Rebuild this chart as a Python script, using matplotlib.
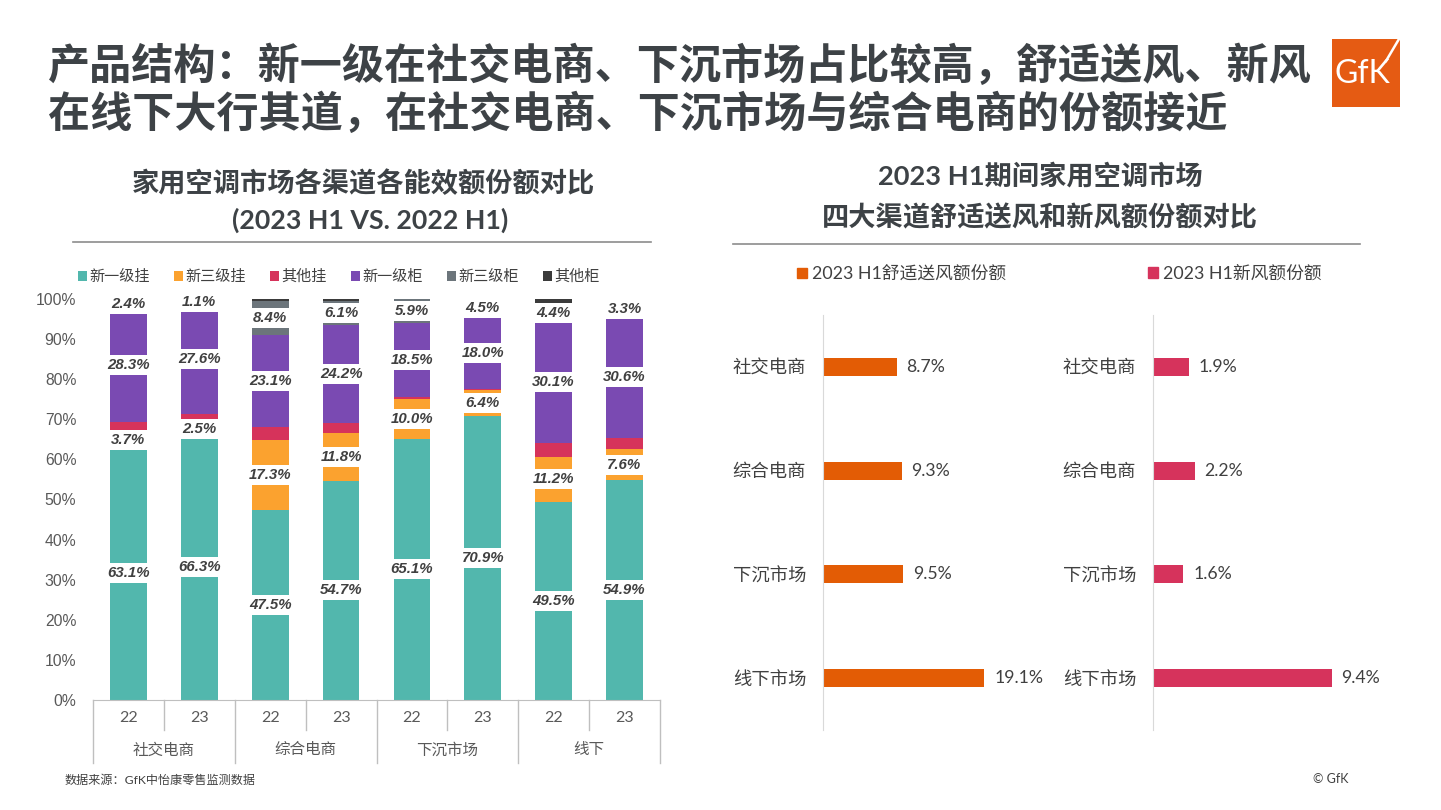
import numpy as np
import matplotlib
matplotlib.use("Agg")
import matplotlib.pyplot as plt
import matplotlib.transforms as mtransforms
from matplotlib.patches import Rectangle

plt.rcParams['font.family'] = ['Lato', 'Noto Sans CJK SC', 'DejaVu Sans']

# ---- data ----
title1 = "产品结构：新一级在社交电商、下沉市场占比较高，舒适送风、新风"
title2 = "在线下大行其道，在社交电商、下沉市场与综合电商的份额接近"

groups = ['社交电商', '综合电商', '下沉市场', '线下']
years = ['22', '23']
series_names = ['新一级挂', '新三级挂', '其他挂', '新一级柜', '新三级柜', '其他柜']
xinyi_gua = [63.1, 66.3, 47.5, 54.7, 65.1, 70.9, 49.5, 54.9]
xinsan_gua = [3.7, 2.5, 17.3, 11.8, 10.0, 6.4, 11.2, 7.6]
qita_gua = [2.5, 2.4, 3.2, 2.7, 0.5, 0.2, 3.5, 2.8]
xinyi_gui = [28.3, 27.6, 23.1, 24.2, 18.5, 18.0, 30.1, 30.6]
xinsan_gui = [2.4, 1.1, 8.4, 6.1, 5.9, 4.5, 4.4, 3.3]
qita_gui = [0.0, 0.1, 0.5, 0.5, 0.0, 0.0, 1.3, 0.8]
labelled = ['新一级挂', '新三级挂', '新一级柜', '新三级柜']

channels = ['社交电商', '综合电商', '下沉市场', '线下市场']
comfort_share = [8.7, 9.3, 9.5, 19.1]
fresh_share = [1.9, 2.2, 1.6, 9.4]

# ---- style ----
TXT = '#404040'
TITLE_C = '#3d4246'
GRID = '#bfbfbf'
stack_colors = ['#52b7ad', '#fba22f', '#d6335b', '#7a4ab2', '#6c757b', '#3b3b3b']
ORANGE = '#e35c05'
CRIMSON = '#d6335c'

W, H = 1441, 810
fig = plt.figure(figsize=(W / 100, H / 100), dpi=100)


def rect(x0, y0, x1, y1):
    return [x0 / W, 1 - y1 / H, (x1 - x0) / W, (y1 - y0) / H]


# titles
fig.text(48 / W, 1 - 65 / H, title1, fontsize=30.3, weight='bold', color=TITLE_C, va='center')
fig.text(48 / W, 1 - 113 / H, title2, fontsize=30.3, weight='bold', color=TITLE_C, va='center')

# logo
fig.add_artist(Rectangle((1332 / W, 1 - 107 / H), 68 / W, 68 / H, transform=fig.transFigure,
                         color='#e55b13', lw=0))
fig.text(1362 / W, 1 - 74 / H, 'GfK', fontsize=23, color='white', ha='center', va='center')
fig.add_artist(plt.Line2D([1399 / W, 1386 / W], [1 - 39 / H, 1 - 61 / H], color='white', lw=1.8,
                          transform=fig.transFigure))

# subtitles
fig.text(363 / W, 1 - 183 / H, '家用空调市场各渠道各能效额份额对比', fontsize=19.6, weight='bold',
         color=TITLE_C, ha='center', va='center')
fig.text(370 / W, 1 - 220 / H, '(2023 H1 VS. 2022 H1)', fontsize=19.3, weight='bold',
         color=TITLE_C, ha='center', va='center')
fig.add_artist(plt.Line2D([73 / W, 651 / W], [1 - 242 / H] * 2, color='#8c8c8c', lw=1.2,
                          transform=fig.transFigure))
fig.text(1040 / W, 1 - 176 / H, '2023 H1期间家用空调市场', fontsize=19.6, weight='bold',
         color=TITLE_C, ha='center', va='center')
fig.text(1040 / W, 1 - 217 / H, '四大渠道舒适送风和新风额份额对比', fontsize=19.6, weight='bold',
         color=TITLE_C, ha='center', va='center')
fig.add_artist(plt.Line2D([733 / W, 1360 / W], [1 - 244 / H] * 2, color='#8c8c8c', lw=1.2,
                          transform=fig.transFigure))

# ---- left stacked chart ----
axL = fig.add_axes(rect(93, 299, 660, 700))
x = np.arange(8)
bottom = np.zeros(8)
handles = []
for name, vals, col in zip(series_names,
                           [xinyi_gua, xinsan_gua, qita_gua, xinyi_gui, xinsan_gui, qita_gui],
                           stack_colors):
    vals = np.array(vals)
    b = axL.bar(x, vals, 0.52, bottom=bottom, color=col, label=name, lw=0, zorder=2)
    handles.append(b)
    if name in labelled:
        for xi, v, bt in zip(x, vals, bottom):
            axL.text(xi, bt + v / 2, f'{v:.1f}%', ha='center', va='center', fontsize=10.8,
                     weight='bold', style='italic', family='Liberation Sans', color=TXT, zorder=5,
                     bbox=dict(boxstyle='square,pad=0.2', fc='white', ec='none'))
    bottom += vals

axL.set_xlim(-0.5, 7.5)
axL.set_ylim(0, 100)
axL.set_yticks(np.arange(0, 101, 10))
axL.set_yticklabels([f'{v}%' for v in range(0, 101, 10)], family='Liberation Sans',
                    fontsize=11.3, color='#595959')
axL.tick_params(axis='y', length=0, pad=12)
axL.set_xticks([])
for s in ['top', 'right', 'left']:
    axL.spines[s].set_visible(False)
axL.spines['bottom'].set_color(GRID)

tr = mtransforms.blended_transform_factory(axL.transData, axL.transAxes)
for i in range(8):
    axL.text(i, -0.046, years[i % 2], transform=tr, ha='center', va='center', fontsize=11.5,
             color='#595959')
for g, name in enumerate(groups):
    axL.text(2 * g + 0.5, -0.125, name, transform=tr, ha='center', va='center', fontsize=11.2,
             color='#595959')
for xs in [-0.5, 1.5, 3.5, 5.5, 7.5]:
    axL.plot([xs, xs], [0, -0.157], transform=tr, clip_on=False, color=GRID, lw=1)
for xs in [0.5, 2.5, 4.5, 6.5]:
    axL.plot([xs, xs], [0, -0.075], transform=tr, clip_on=False, color=GRID, lw=1)

axL.legend(handles=handles, loc='center left', bbox_to_anchor=(78 / W, 1 - 277 / H),
           bbox_transform=fig.transFigure, ncol=6, frameon=False, fontsize=10.9,
           handlelength=0.6, handleheight=0.6, handletextpad=0.15, columnspacing=1.6,
           borderpad=0, borderaxespad=0, labelcolor=TXT)

fig.text(65 / W, 1 - 780 / H, '数据来源：GfK中怡康零售监测数据', fontsize=8.7, color=TXT, va='center')
fig.text(1313 / W, 1 - 779 / H, '© GfK', fontsize=9, color=TXT, va='center')

# ---- right bar panels ----
def panel(x0, scale, xmax, vals, col, legend_x, legend_label):
    ax = fig.add_axes(rect(x0, 315, x0 + xmax * scale, 730))
    ypos = np.arange(len(channels))
    ax.barh(ypos, vals, height=0.175, color=col, lw=0)
    for yi, v in zip(ypos, vals):
        ax.annotate(f'{v}%', (v, yi), xytext=(7, 0), textcoords='offset points',
                    ha='left', va='center', fontsize=12.7, color=TXT)
    ax.set_xlim(0, xmax)
    ax.set_ylim(3.5, -0.5)
    ax.set_yticks(ypos)
    ax.set_yticklabels(channels, fontsize=13.2, color=TXT)
    ax.tick_params(axis='y', length=0, pad=12)
    ax.set_xticks([])
    for s in ['top', 'right', 'bottom']:
        ax.spines[s].set_visible(False)
    ax.spines['left'].set_color('#d9d9d9')
    ax.legend(handles=[Rectangle((0, 0), 1, 1, color=col)], labels=[legend_label],
              loc='center left', bbox_to_anchor=(legend_x / W, 1 - 274 / H),
              bbox_transform=fig.transFigure, frameon=False, fontsize=12.8,
              handlelength=0.55, handleheight=0.55, handletextpad=0.3,
              borderpad=0, borderaxespad=0, labelcolor=TXT)
    return ax


panel(823, 8.45, 25, comfort_share, ORANGE, 797, '2023 H1舒适送风额份额')
panel(1153, 19.0, 11, fresh_share, CRIMSON, 1148, '2023 H1新风额份额')

fig.savefig('out.png', dpi=100, facecolor='white')
